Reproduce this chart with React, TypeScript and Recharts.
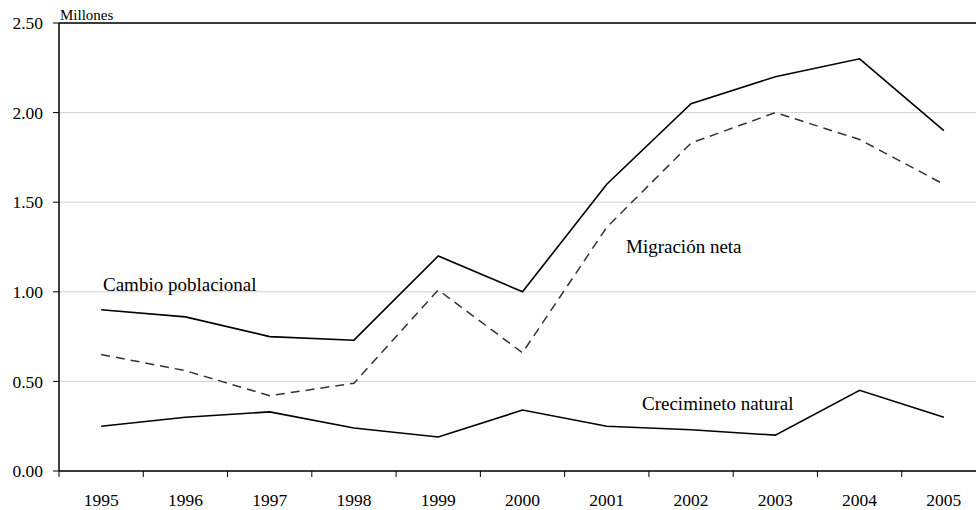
import React from 'react';
import { LineChart, Line, XAxis, YAxis, CartesianGrid, ReferenceLine } from 'recharts';

const categories = ['1995', '1996', '1997', '1998', '1999', '2000', '2001', '2002', '2003', '2004', '2005'];
const cambioPoblacional = [0.9, 0.86, 0.75, 0.73, 1.2, 1.0, 1.6, 2.05, 2.2, 2.3, 1.9];
const migracionNeta = [0.65, 0.56, 0.42, 0.49, 1.01, 0.66, 1.36, 1.83, 2.0, 1.85, 1.6];
const crecimientoNatural = [0.25, 0.3, 0.33, 0.24, 0.19, 0.34, 0.25, 0.23, 0.2, 0.45, 0.3];
const yTicks = [0, 0.5, 1, 1.5, 2, 2.5];

const data = categories.map((c, i) => ({
  pos: i + 0.5,
  year: c,
  cambio: cambioPoblacional[i],
  migracion: migracionNeta[i],
  natural: crecimientoNatural[i],
}));

const xTicks: number[] = [];
for (let i = 0; i <= categories.length; i++) {
  xTicks.push(i);
  if (i < categories.length) xTicks.push(i + 0.5);
}

const FONT = '"Liberation Serif", "Times New Roman", serif';

const XTick = (props: any) => {
  const { x, y, payload } = props;
  const v = payload.value as number;
  if (Number.isInteger(v)) {
    return <line x1={x} y1={y} x2={x} y2={y + 6} stroke="#000" strokeWidth={1} />;
  }
  const label = categories[Math.floor(v)];
  return (
    <text x={x} y={y + 35} textAnchor="middle" fontFamily={FONT} fontSize={17.5} fill="#000">
      {label}
    </text>
  );
};

export default function App() {
  return (
    <div style={{ position: 'absolute', left: 0, top: 0, width: 976, height: 510, overflow: 'hidden', background: '#fff' }}>
      <LineChart width={990} height={510} data={data} margin={{ top: 23, right: 4, left: 0, bottom: 0 }}>
        <CartesianGrid vertical={false} stroke="#d0d0d0" strokeWidth={1} />
        <XAxis
          dataKey="pos"
          type="number"
          domain={[0, categories.length]}
          ticks={xTicks}
          interval={0}
          tick={<XTick />}
          tickLine={false}
          tickSize={0}
          tickMargin={0}
          axisLine={{ stroke: '#000', strokeWidth: 1.5 }}
          height={39}
        />
        <YAxis
          domain={[0, 2.5]}
          ticks={yTicks}
          interval={0}
          tickFormatter={(v: number) => v.toFixed(2)}
          tick={{ fontFamily: FONT, fontSize: 17.5, fill: '#000' }}
          tickLine={{ stroke: '#000' }}
          tickSize={6}
          tickMargin={10}
          axisLine={{ stroke: '#000', strokeWidth: 1.5 }}
          width={59}
        />
        <ReferenceLine y={2.5} stroke="#000" strokeWidth={1.5} />
        <Line dataKey="cambio" stroke="#000" strokeWidth={1.6} dot={false} isAnimationActive={false} />
        <Line dataKey="migracion" stroke="#333" strokeWidth={1.5} strokeDasharray="9 6" dot={false} isAnimationActive={false} />
        <Line dataKey="natural" stroke="#000" strokeWidth={1.6} dot={false} isAnimationActive={false} />
      </LineChart>
      <svg width={976} height={510} style={{ position: 'absolute', left: 0, top: 0, pointerEvents: 'none' }}>
        <text x={60} y={20} fontFamily={FONT} fontSize={15} fill="#000">Millones</text>
        <text x={103} y={291} fontFamily={FONT} fontSize={19} fill="#000">Cambio poblacional</text>
        <text x={626} y={253} fontFamily={FONT} fontSize={19} fill="#000">Migración neta</text>
        <text x={642} y={410} fontFamily={FONT} fontSize={19} fill="#000">Crecimineto natural</text>
      </svg>
    </div>
  );
}
